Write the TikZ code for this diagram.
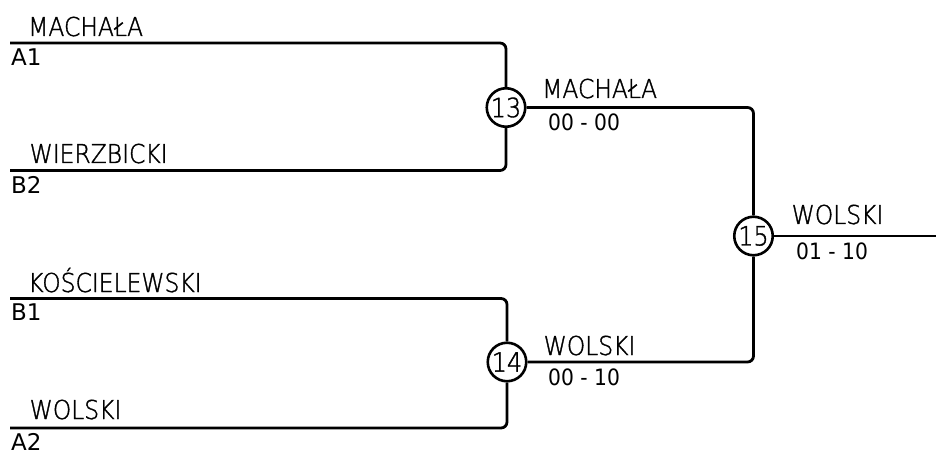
\documentclass[tikz,border=0pt]{standalone}
\usepackage{fontspec}
\newfontfamily\namefont[FakeStretch=0.9,FakeBold=1.3]{DejaVu Sans ExtraLight}
\newfontfamily\labfont{DejaVu Sans}
\newfontfamily\scorefont[FakeStretch=0.9]{DejaVu Sans}
\begin{document}
\begin{tikzpicture}[x=1pt,y=-1pt,
  wire/.style={line width=2.8pt,rounded corners=6pt},
  game/.style={circle,draw,line width=2.6pt,minimum size=38.5pt,inner sep=0pt,font=\namefont\fontsize{26.5}{26.5}\selectfont},
  pname/.style={anchor=base west,inner sep=0pt,font=\namefont\fontsize{26}{26}\selectfont},
  plabel/.style={anchor=north west,inner sep=0pt,font=\labfont\fontsize{23}{23}\selectfont},
  score/.style={anchor=north west,inner sep=0pt,font=\scorefont\fontsize{22.5}{22.5}\selectfont}]
\useasboundingbox (0,0) rectangle (936,454);
% game circles
\node[game] (c13) at (506,107.5) {13};
\node[game] (c14) at (507,362) {14};
\node[game] (c15) at (753.5,236) {15};
% start coordinates
\coordinate (a1) at (10,43);
\coordinate (b2) at (10,170.5);
\coordinate (b1) at (10,298.5);
\coordinate (a2) at (10,428);
\coordinate (fin) at (936,236);
% brackets
\draw[wire] (a1) -- (a1 -| c13) -- (c13.north);
\draw[wire] (b2) -- (b2 -| c13) -- (c13.south);
\draw[wire] (b1) -- (b1 -| c14) -- (c14.north);
\draw[wire] (a2) -- (a2 -| c14) -- (c14.south);
\draw[wire] (c13.east) -- (c13.east -| c15) -- (c15.north);
\draw[wire] (c14.east) -- (c14.east -| c15) -- (c15.south);
\draw[wire] (c15.east) -- (fin);
% names
\node[pname] (n1) at (28,36) {MACHAŁA};
\node[pname] (n2) at (29.5,163) {WIERZBICKI};
\node[pname] (n3) at (28,292) {KOŚCIELEWSKI};
\node[pname] (n4) at (29.5,419) {WOLSKI};
\node[pname] (n5) at (542,98) {MACHAŁA};
\node[pname] (n6) at (543.5,355) {WOLSKI};
\node[pname] (n7) at (791.5,224) {WOLSKI};
% seed labels
\node[plabel] (l1) at (11,48.5) {A1};
\node[plabel] (l2) at (11,176) {B2};
\node[plabel] (l3) at (11,304) {B1};
\node[plabel] (l4) at (11,433) {A2};
% scores
\node[score] (s1) at (548,114) {00 - 00};
\node[score] (s2) at (548,368.5) {00 - 10};
\node[score] (s3) at (796,242.5) {01 - 10};
\end{tikzpicture}
\end{document}
